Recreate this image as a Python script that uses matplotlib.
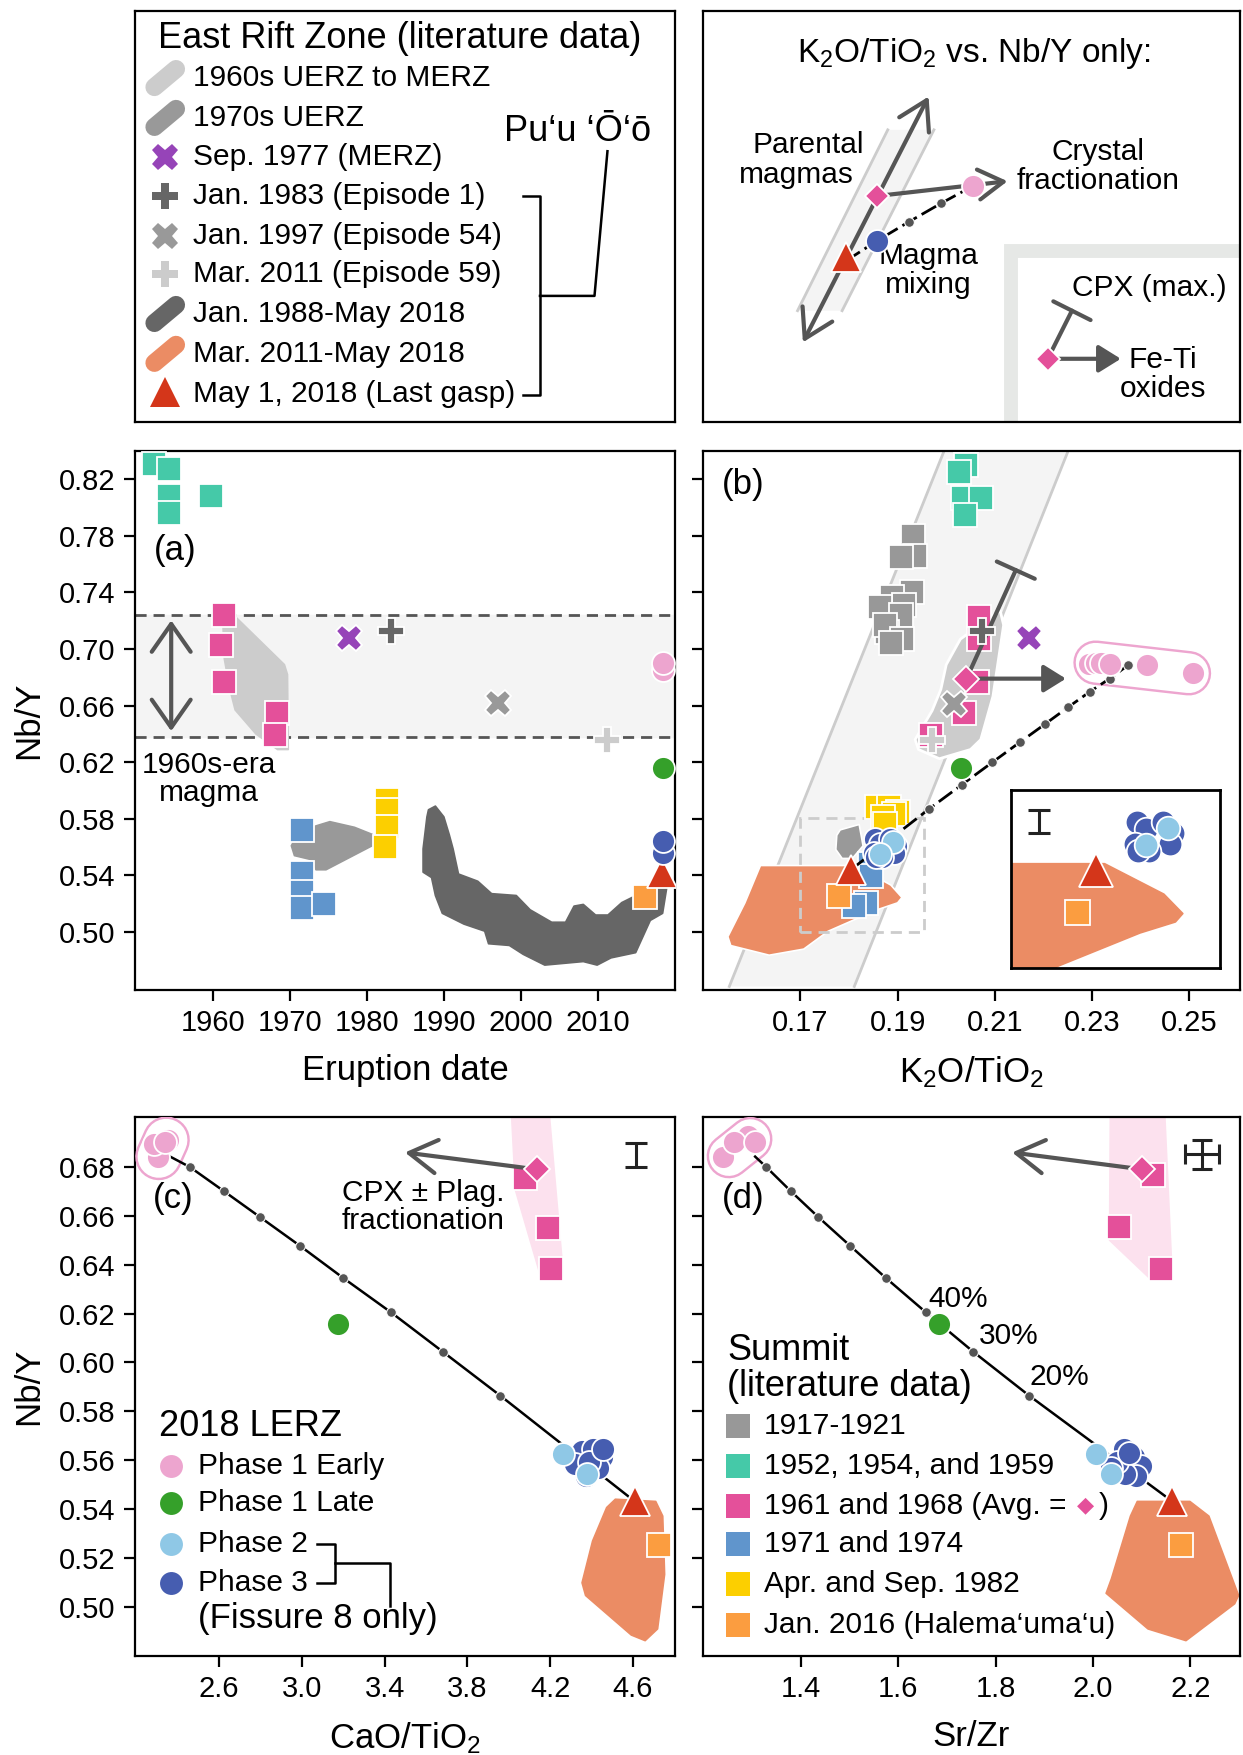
import numpy as np
import matplotlib.pyplot as plt
from matplotlib.patches import Polygon
from matplotlib.ticker import FormatStrFormatter

plt.rcParams['font.family'] = ['Liberation Sans', 'DejaVu Sans']
plt.rcParams['mathtext.default'] = 'regular'
plt.rcParams['axes.linewidth'] = 1.6

# ------------------------------------------------------------------
# colours
C_TEAL = '#45c9a8'
C_GRAYSQ = '#989898'
C_PINKSQ = '#e4509a'
C_BLUESQ = '#6095cc'
C_YELLOW = '#fccf00'
C_ORANGE = '#fb9d40'
C_EARLY = '#eda5cf'
C_LATE = '#35a02a'
C_PH2 = '#8fc8e6'
C_PH3 = '#465db0'
C_GASP = '#d4361a'
C_ORPOLY = '#eb8c64'
C_DARK = '#666666'
C_MID = '#999999'
C_LIGHT = '#cccccc'
C_PURPLE = '#9644b8'
C_BAND = '#f4f4f4'
C_ARROW = '#555555'

# ------------------------------------------------------------------
# ticks
a_xticks = [1960, 1970, 1980, 1990, 2000, 2010]
ab_yticks = [0.50, 0.54, 0.58, 0.62, 0.66, 0.70, 0.74, 0.78, 0.82]
b_xticks = [0.17, 0.19, 0.21, 0.23, 0.25]
c_xticks = [2.6, 3.0, 3.4, 3.8, 4.2, 4.6]
d_xticks = [1.4, 1.6, 1.8, 2.0, 2.2]
cd_yticks = [0.50, 0.52, 0.54, 0.56, 0.58, 0.60, 0.62, 0.64, 0.66, 0.68]

# ------------------------------------------------------------------
# panel (a): Nb/Y vs eruption date
teal_a_x = [1952.4, 1954.3, 1954.3, 1954.3, 1959.8]
teal_a_y = [0.831, 0.827, 0.808, 0.796, 0.808]
pink_a_x = [1961.4, 1961.1, 1961.4, 1968.4, 1968.1]
pink_a_y = [0.724, 0.703, 0.677, 0.655, 0.639]
bluesq_a_x = [1971.6, 1971.6, 1971.6, 1971.6, 1974.5]
bluesq_a_y = [0.572, 0.542, 0.528, 0.517, 0.520]
yellow_a_x = [1982.6, 1982.6, 1982.6, 1982.3]
yellow_a_y = [0.593, 0.586, 0.574, 0.560]
sep77_a = (1977.7, 0.708)
ep1_a = (1983.1, 0.713)
ep54_a = (1997.0, 0.662)
ep59_a = (2011.2, 0.636)
early_a_x = [2018.45, 2018.45]
early_a_y = [0.685, 0.690]
late_a = (2018.45, 0.616)
ph3_a_x = [2018.5, 2018.5]
ph3_a_y = [0.556, 0.564]
gasp_a = (2018.35, 0.542)
halema_a = (2016.1, 0.525)
era1960_lo, era1960_hi = 0.638, 0.724

poly_1960s_a = [(1961.3, 0.720), (1963.1, 0.722), (1969.3, 0.689), (1969.7, 0.682),
                (1969.8, 0.629), (1968.4, 0.629), (1965.6, 0.640), (1962.9, 0.657),
                (1962.2, 0.672), (1961.5, 0.693)]
poly_1970s_a = [(1973.4, 0.575), (1975.2, 0.578), (1978.4, 0.574), (1980.7, 0.569),
                (1980.7, 0.561), (1974.7, 0.544), (1973.4, 0.544), (1972.9, 0.551),
                (1970.6, 0.554), (1970.2, 0.561), (1971.0, 0.569)]
poly_pood_a = [(1988.0, 0.5864), (1988.9, 0.5890), (1990.0, 0.5814), (1990.7, 0.5688),
               (1991.2, 0.5587), (1991.9, 0.5410), (1994.4, 0.5359), (1996.2, 0.5271),
               (1999.4, 0.5258), (2001.2, 0.5157), (2004.0, 0.5069), (2005.8, 0.5069),
               (2006.9, 0.5183), (2008.1, 0.5195), (2009.7, 0.5120), (2011.3, 0.5120),
               (2013.1, 0.5208), (2014.5, 0.5246), (2016.3, 0.5284), (2018.1, 0.5385),
               (2019.0, 0.5334), (2018.4, 0.5132), (2016.8, 0.5082), (2014.9, 0.4854),
               (2011.7, 0.4817), (2009.9, 0.4766), (2008.1, 0.4791), (2003.1, 0.4766),
               (2000.3, 0.4842), (1998.5, 0.4905), (1995.8, 0.4917), (1995.3, 0.5006),
               (1992.6, 0.5056), (1989.8, 0.5132), (1988.9, 0.5258), (1988.4, 0.5385),
               (1987.3, 0.5423), (1987.3, 0.5587), (1987.8, 0.5814)]

# ------------------------------------------------------------------
# panel (b): Nb/Y vs K2O/TiO2
band_b = [(0.1554, 0.4615), (0.1994, 0.8387), (0.2249, 0.8387), (0.1811, 0.4615)]
teal_b_x = [0.2040, 0.2026, 0.2034, 0.2071, 0.2039]
teal_b_y = [0.830, 0.8255, 0.807, 0.807, 0.795]
gray_b_x = [0.1932, 0.1935, 0.1907, 0.1930, 0.1889, 0.1914, 0.1864, 0.1908,
            0.1879, 0.1875, 0.1909, 0.1886]
gray_b_y = [0.780, 0.766, 0.765, 0.740, 0.737, 0.731, 0.730, 0.724,
            0.712, 0.717, 0.707, 0.704]
pink_b_x = [0.2068, 0.2068, 0.2064, 0.2036, 0.1968]
pink_b_y = [0.723, 0.707, 0.677, 0.655, 0.639]
sep77_b = (0.2171, 0.7075)
ep1_b = (0.2073, 0.7126)
ep54_b = (0.2016, 0.6615)
ep59_b = (0.1971, 0.6356)
avg_b = (0.2041, 0.6786)
cpx_b = (0.2143, 0.7558)
feti_b = (0.2246, 0.6791)
early_b_x = [0.2293, 0.2307, 0.2318, 0.2337, 0.2412, 0.2507]
early_b_y = [0.6897, 0.6904, 0.6904, 0.6892, 0.6887, 0.6829]
late_b = (0.2030, 0.6157)
mixdots_b_x = [0.1964, 0.2032, 0.2095, 0.2152, 0.2204, 0.2251, 0.2295, 0.2336, 0.2374]
mixdots_b_y = [0.5868, 0.6041, 0.6200, 0.6343, 0.6472, 0.6590, 0.6698, 0.6791, 0.6887]
yellow_b_x = [0.1857, 0.1882, 0.1900, 0.1893, 0.1871, 0.1875]
yellow_b_y = [0.5885, 0.5885, 0.5848, 0.5835, 0.5810, 0.5760]
bluesq_b_x = [0.1843, 0.1846, 0.1836, 0.1811]
bluesq_b_y = [0.5483, 0.5395, 0.5206, 0.5181]
ph3_b_x = [0.1853, 0.1864, 0.1851, 0.1885, 0.1897, 0.1893, 0.1868, 0.1855]
ph3_b_y = [0.5657, 0.5625, 0.5561, 0.5657, 0.5609, 0.5561, 0.5529, 0.5529]
ph2_b_x = [0.1891, 0.1864]
ph2_b_y = [0.5633, 0.5553]
gasp_b = (0.1804, 0.5440)
halema_b = (0.1780, 0.5252)
poly_1960s_b = [(0.2111, 0.727), (0.2118, 0.717), (0.2096, 0.6665), (0.2071, 0.636),
                (0.2050, 0.629), (0.1986, 0.6225), (0.1943, 0.629), (0.1936, 0.636),
                (0.1971, 0.6565), (0.1989, 0.6716), (0.2000, 0.689), (0.2029, 0.707),
                (0.2057, 0.714), (0.2086, 0.722)]
poly_1970s_b = [(0.1782, 0.5722), (0.1821, 0.5760), (0.1829, 0.5609), (0.1807, 0.5520),
                (0.1786, 0.5520), (0.1773, 0.5583), (0.1775, 0.5684)]
poly_pood_b = [(0.1618, 0.5470), (0.1814, 0.5470), (0.1886, 0.5332), (0.1909, 0.5244),
               (0.1900, 0.5206), (0.1857, 0.5156), (0.1757, 0.5005), (0.1707, 0.4879),
               (0.1636, 0.4836), (0.1557, 0.4904), (0.1551, 0.4967), (0.1586, 0.5206)]
inset_x = (0.1700, 0.1954)
inset_y = (0.4999, 0.5805)
inset_err = (0.1734, 0.5661, 0.0052)

# ------------------------------------------------------------------
# panel (c): Nb/Y vs CaO/TiO2
early_c_x = [2.303, 2.286, 2.354, 2.337]
early_c_y = [0.6843, 0.6894, 0.6911, 0.6903]
mixdots_c_x = [2.459, 2.622, 2.798, 2.990, 3.198, 3.431, 3.681, 3.959]
mixdots_c_y = [0.6800, 0.6702, 0.6595, 0.6478, 0.6347, 0.6205, 0.6044, 0.5864]
mixstart_c = (2.363, 0.6843)
late_c = (3.176, 0.6158)
pink_c_x = [4.078, 4.188, 4.202]
pink_c_y = [0.6757, 0.6552, 0.6381]
avg_c = (4.134, 0.6791)
cpx_c = (3.498, 0.6860)
ph3_c_x = [4.354, 4.405, 4.448, 4.431, 4.372, 4.320, 4.388, 4.456]
ph3_c_y = [0.5637, 0.5645, 0.5611, 0.5568, 0.5534, 0.5585, 0.5594, 0.5645]
ph2_c_x = [4.264, 4.380]
ph2_c_y = [0.5625, 0.5542]
gasp_c = (4.609, 0.5431)
halema_c = (4.727, 0.5251)
err_c = (4.617, 0.685, 0.005)
poly_pinkshade_c = [(4.007, 0.712), (4.185, 0.712), (4.261, 0.6381), (4.256, 0.6338),
                    (4.159, 0.6338), (4.032, 0.6706)]
poly_pood_c = [(4.473, 0.5406), (4.515, 0.5440), (4.710, 0.5431), (4.744, 0.5371),
               (4.753, 0.5132), (4.719, 0.4909), (4.659, 0.4861), (4.592, 0.4884),
               (4.371, 0.5046), (4.354, 0.5098), (4.405, 0.5269)]

# ------------------------------------------------------------------
# panel (d): Nb/Y vs Sr/Zr
early_d_x = [1.291, 1.241, 1.263, 1.306]
early_d_y = [0.6928, 0.6843, 0.6903, 0.6903]
mixdots_d_x = [1.329, 1.379, 1.436, 1.501, 1.574, 1.657, 1.754, 1.869]
mixdots_d_y = [0.6800, 0.6702, 0.6595, 0.6478, 0.6347, 0.6205, 0.6044, 0.5864]
mixstart_d = (1.306, 0.6843)
mix_labels = ['40%', '30%', '20%']
mix_label_x = [1.661, 1.766, 1.869]
mix_label_y = [0.6261, 0.6107, 0.5940]
late_d = (1.683, 0.6158)
pink_d_x = [2.124, 2.054, 2.140]
pink_d_y = [0.6766, 0.6555, 0.6381]
avg_d = (2.100, 0.6791)
cpx_d = (1.834, 0.6860)
ph3_d_x = [2.063, 2.084, 2.099, 2.088, 2.066, 2.049, 2.074, 2.038]
ph3_d_y = [0.5645, 0.5611, 0.5577, 0.5534, 0.5542, 0.5594, 0.5628, 0.5568]
ph2_d_x = [2.006, 2.038]
ph2_d_y = [0.5625, 0.5542]
gasp_d = (2.163, 0.5431)
halema_d = (2.181, 0.5251)
err_d = (2.224, 0.6853, 0.035, 0.006)
poly_pinkshade_d = [(2.036, 0.712), (2.145, 0.712), (2.163, 0.6338), (2.120, 0.6338),
                    (2.034, 0.6501)]
poly_pood_d = [(2.091, 0.5431), (2.199, 0.5431), (2.238, 0.5371), (2.299, 0.5046),
               (2.291, 0.5012), (2.191, 0.4861), (2.113, 0.4909), (2.027, 0.5055),
               (2.038, 0.5115), (2.077, 0.5371)]

# legend texts
erz_labels = ['1960s UERZ to MERZ', '1970s UERZ', 'Sep. 1977 (MERZ)',
              'Jan. 1983 (Episode 1)', 'Jan. 1997 (Episode 54)', 'Mar. 2011 (Episode 59)',
              'Jan. 1988-May 2018', 'Mar. 2011-May 2018', 'May 1, 2018 (Last gasp)']
lerz_labels = ['Phase 1 Early', 'Phase 1 Late', 'Phase 2', 'Phase 3']
summit_labels = ['1917-1921', '1952, 1954, and 1959', '1961 and 1968 (Avg. = ',
                 '1971 and 1974', 'Apr. and Sep. 1982', 'Jan. 2016 (Halema\u2018uma\u2018u)']

# ------------------------------------------------------------------
fig = plt.figure(figsize=(12.43, 17.55), dpi=100)
L1, W1 = 0.1086, 0.4344
L2, W2 = 0.5656, 0.4320
ax_leg = fig.add_axes([L1, 0.7595, W1, 0.2342])
ax_key = fig.add_axes([L2, 0.7595, W2, 0.2342])
ax_a = fig.add_axes([L1, 0.4359, W1, 0.3071])
ax_b = fig.add_axes([L2, 0.4359, W2, 0.3071])
ax_c = fig.add_axes([L1, 0.0564, W1, 0.3071])
ax_d = fig.add_axes([L2, 0.0564, W2, 0.3071])

FS_TICK = 21
FS_LAB = 25
FS_TXT = 21.5


def pts(ax, x, y, marker, color, ms, z=5, mew=1.3, ec='white', **kw):
    ax.plot(x, y, ls='none', marker=marker, ms=ms, mfc=color, mec=ec, mew=mew,
            zorder=z, **kw)


def blob(ax, verts, color, z=2, ec=None, lw=1.2):
    ax.add_patch(Polygon(verts, closed=True, fc=color, ec=ec if ec else color, lw=lw,
                         joinstyle='round', zorder=z))


def style(ax, xt, yt, xl, yl, xfmt, ylabels=True):
    ax.set_xlim(xl)
    ax.set_ylim(yl)
    ax.set_xticks(xt)
    ax.set_yticks(yt)
    ax.xaxis.set_major_formatter(FormatStrFormatter(xfmt))
    ax.yaxis.set_major_formatter(FormatStrFormatter('%.2f'))
    ax.tick_params(direction='out', length=8, width=1.6, labelsize=FS_TICK, pad=6)
    if not ylabels:
        ax.set_yticklabels([])


def arrow(ax, start, end, style='->', lw=3, ms=28, color=C_ARROW, z=6, **kw):
    ax.annotate('', xy=end, xytext=start,
                arrowprops=dict(arrowstyle=style, lw=lw, color=color, mutation_scale=ms,
                                shrinkA=0, shrinkB=0, **kw), zorder=z)


def pill(ax, x, y, color, dx=0.02, dy=0.022, lw=13):
    ax.plot([x - dx, x + dx], [y - dy, y + dy], color=color, lw=lw,
            solid_capstyle='round', transform=ax.transAxes, zorder=3)


def outline(ax, p0, p1, lw=32):
    ax.plot([p0[0], p1[0]], [p0[1], p1[1]], color=C_EARLY, lw=lw,
            solid_capstyle='round', zorder=4)
    ax.plot([p0[0], p1[0]], [p0[1], p1[1]], color='white', lw=lw - 3.5,
            solid_capstyle='round', zorder=4)


SQ = 17
CI = 16.5
TRI = 22
XM = 19
FETI = '-|>,head_length=0.45,head_width=0.28'

# ======================= legend box (top left) =======================
for ax in (ax_leg, ax_key):
    ax.set_xlim(0, 1)
    ax.set_ylim(0, 1)
    ax.set_xticks([])
    ax.set_yticks([])

ax_leg.text(0.043, 0.934, 'East Rift Zone (literature data)', fontsize=26,
            va='center', ha='left', transform=ax_leg.transAxes)
row_y = [0.837, 0.740, 0.645, 0.550, 0.453, 0.360, 0.263, 0.166, 0.069]
sx = 0.056
pill(ax_leg, sx, row_y[0], C_LIGHT)
pill(ax_leg, sx, row_y[1], C_MID)
pts(ax_leg, [sx], [row_y[2]], 'X', C_PURPLE, XM, mew=0, transform=ax_leg.transAxes)
pts(ax_leg, [sx], [row_y[3]], 'P', C_DARK, XM, mew=0, transform=ax_leg.transAxes)
pts(ax_leg, [sx], [row_y[4]], 'X', C_MID, XM, mew=0, transform=ax_leg.transAxes)
pts(ax_leg, [sx], [row_y[5]], 'P', C_LIGHT, XM, mew=0, transform=ax_leg.transAxes)
pill(ax_leg, sx, row_y[6], C_DARK)
pill(ax_leg, sx, row_y[7], C_ORPOLY)
pts(ax_leg, [sx], [row_y[8] + 0.005], '^', C_GASP, TRI, mew=0, transform=ax_leg.transAxes)
for lab, yy in zip(erz_labels, row_y):
    ax_leg.text(0.108, yy, lab, fontsize=FS_TXT, va='center', ha='left',
                transform=ax_leg.transAxes)
ax_leg.text(0.82, 0.707, 'Pu\u2018u \u2018\u014c\u2018\u014d', fontsize=26, ha='center',
            va='center', transform=ax_leg.transAxes)
ax_leg.plot([0.718, 0.750, 0.750, 0.718], [0.550, 0.550, 0.065, 0.065], color='black',
            lw=1.8, transform=ax_leg.transAxes)
ax_leg.plot([0.750, 0.851, 0.875], [0.307, 0.307, 0.659], color='black', lw=1.8,
            transform=ax_leg.transAxes)

# ======================= key box (top right) =======================
T = ax_key.transAxes
ax_key.plot([0.573, 0.573, 1.05], [-0.05, 0.416, 0.416], color='#e6e8e6', lw=10,
            solid_joinstyle='miter', transform=T, zorder=1)
ax_key.text(0.505, 0.897, 'K$_2$O/TiO$_2$ vs. Nb/Y only:', fontsize=24, ha='center',
            va='center', transform=T)
ax_key.add_patch(Polygon([(0.176, 0.271), (0.344, 0.711), (0.430, 0.711), (0.259, 0.271)],
                         closed=True, fc=C_BAND, ec='none', transform=T, zorder=1))
ax_key.plot([0.176, 0.344], [0.271, 0.711], color=C_LIGHT, lw=2, transform=T, zorder=1)
ax_key.plot([0.259, 0.430], [0.271, 0.711], color=C_LIGHT, lw=2, transform=T, zorder=1)
ax_key.annotate('', xy=(0.420, 0.792), xytext=(0.186, 0.194), xycoords=T,
                arrowprops=dict(arrowstyle='<->,head_length=0.5,head_width=0.3', lw=3,
                                color=C_ARROW, mutation_scale=40,
                                shrinkA=0, shrinkB=0), zorder=3)
ax_key.annotate('', xy=(0.567, 0.586), xytext=(0.324, 0.550), xycoords=T,
                arrowprops=dict(arrowstyle='->,head_length=0.5,head_width=0.3', lw=3,
                                color=C_ARROW, mutation_scale=36,
                                shrinkA=0, shrinkB=0), zorder=3)
ax_key.plot([0.266, 0.324, 0.383, 0.443, 0.502], [0.392, 0.441, 0.487, 0.532, 0.574],
            color='black', lw=2, ls=(0, (6, 2)), transform=T, zorder=3)
pts(ax_key, [0.383, 0.443], [0.487, 0.532], 'o', C_ARROW, 7, mew=0.8, transform=T)
pts(ax_key, [0.266], [0.392 + 0.01], '^', C_GASP, TRI, transform=T, z=6)
pts(ax_key, [0.324], [0.441], 'o', C_PH3, CI, transform=T, z=6)
pts(ax_key, [0.502], [0.574], 'o', C_EARLY, CI, transform=T, z=6)
pts(ax_key, [0.324], [0.550], 'D', C_PINKSQ, 12, transform=T, z=6)
ax_key.text(0.30, 0.675, 'Parental', fontsize=FS_TXT, ha='right', va='center', transform=T)
ax_key.text(0.28, 0.600, 'magmas', fontsize=FS_TXT, ha='right', va='center', transform=T)
ax_key.text(0.736, 0.622, 'Crystal\nfractionation', fontsize=FS_TXT, ha='center',
            va='center', linespacing=1.05, transform=T)
ax_key.text(0.42, 0.368, 'Magma\nmixing', fontsize=FS_TXT, ha='center', va='center',
            linespacing=1.05, transform=T)
ax_key.text(0.687, 0.327, 'CPX (max.)', fontsize=FS_TXT, ha='left', va='center',
            transform=T)
ax_key.annotate('', xy=(0.687, 0.271), xytext=(0.642, 0.154), xycoords=T,
                arrowprops=dict(arrowstyle='|-|,widthA=0,widthB=0.5', lw=3, color=C_ARROW,
                                mutation_scale=30, shrinkA=0, shrinkB=0), zorder=3)
ax_key.annotate('', xy=(0.778, 0.154), xytext=(0.642, 0.154), xycoords=T,
                arrowprops=dict(arrowstyle=FETI, lw=3, color=C_ARROW, fc=C_ARROW,
                                mutation_scale=30, shrinkA=0, shrinkB=0), zorder=3)
pts(ax_key, [0.642], [0.154], 'D', C_PINKSQ, 12, transform=T, z=6)
ax_key.text(0.857, 0.116, 'Fe-Ti\noxides', fontsize=FS_TXT, ha='center', va='center',
            linespacing=1.05, transform=T)

# ======================= panel (a) =======================
ax = ax_a
ax.axhspan(era1960_lo, era1960_hi, color=C_BAND, zorder=0)
for yy in (era1960_lo, era1960_hi):
    ax.axhline(yy, color=C_ARROW, lw=2, ls=(0, (4, 2.5)), zorder=1)
blob(ax, poly_1960s_a, C_LIGHT, z=2)
blob(ax, poly_1970s_a, C_MID, z=2)
blob(ax, poly_pood_a, C_DARK, z=2)
arrow(ax, (1954.6, 0.6420), (1954.6, 0.7203), style='<->,head_length=0.5,head_width=0.35',
      ms=40)
pts(ax, teal_a_x, teal_a_y, 's', C_TEAL, SQ)
pts(ax, pink_a_x, pink_a_y, 's', C_PINKSQ, SQ)
pts(ax, bluesq_a_x, bluesq_a_y, 's', C_BLUESQ, SQ)
pts(ax, yellow_a_x, yellow_a_y, 's', C_YELLOW, SQ)
pts(ax, [sep77_a[0]], [sep77_a[1]], 'X', C_PURPLE, XM)
pts(ax, [ep1_a[0]], [ep1_a[1]], 'P', C_DARK, XM)
pts(ax, [ep54_a[0]], [ep54_a[1]], 'X', C_MID, XM)
pts(ax, [ep59_a[0]], [ep59_a[1]], 'P', C_LIGHT, XM)
pts(ax, [halema_a[0]], [halema_a[1]], 's', C_ORANGE, SQ)
pts(ax, [gasp_a[0]], [gasp_a[1]], '^', C_GASP, TRI)
pts(ax, early_a_x, early_a_y, 'o', C_EARLY, CI)
pts(ax, [late_a[0]], [late_a[1]], 'o', C_LATE, CI)
pts(ax, ph3_a_x, ph3_a_y, 'o', C_PH3, CI)
ax.text(1955.1, 0.7695, '(a)', fontsize=25, ha='center', va='center')
ax.text(1959.5, 0.608, '1960s-era\nmagma', fontsize=FS_TXT, ha='center', va='center',
        linespacing=1.0)
style(ax, a_xticks, ab_yticks, (1949.9, 2020.0), (0.459, 0.840), '%d')
ax.set_xlabel('Eruption date', fontsize=FS_LAB, labelpad=12)
ax.set_ylabel('Nb/Y', fontsize=FS_LAB, labelpad=10)

# ======================= panel (b) =======================
ax = ax_b
ax.add_patch(Polygon(band_b, closed=True, fc=C_BAND, ec='none', zorder=0))
ax.plot([band_b[0][0], band_b[1][0]], [band_b[0][1], band_b[1][1]], color=C_LIGHT, lw=2,
        zorder=0.5)
ax.plot([band_b[3][0], band_b[2][0]], [band_b[3][1], band_b[2][1]], color=C_LIGHT, lw=2,
        zorder=0.5)
blob(ax, poly_pood_b, C_ORPOLY, z=1, ec='white')
blob(ax, poly_1970s_b, C_MID, z=1, ec='white')
blob(ax, poly_1960s_b, C_LIGHT, z=1, ec='white', lw=2)
ax.add_patch(plt.Rectangle((inset_x[0], inset_y[0]), inset_x[1] - inset_x[0],
                           inset_y[1] - inset_y[0], fill=False, ec=C_LIGHT, lw=2,
                           ls=(0, (4, 2.5)), zorder=1.5))
pts(ax, teal_b_x, teal_b_y, 's', C_TEAL, SQ)
pts(ax, gray_b_x, gray_b_y, 's', C_GRAYSQ, SQ)
pts(ax, pink_b_x, pink_b_y, 's', C_PINKSQ, SQ)
pts(ax, yellow_b_x, yellow_b_y, 's', C_YELLOW, SQ)
pts(ax, bluesq_b_x, bluesq_b_y, 's', C_BLUESQ, SQ)
arrow(ax, avg_b, cpx_b, style='|-|,widthA=0,widthB=0.5', ms=30, z=6)
arrow(ax, (0.2052, avg_b[1] + 0.0005), feti_b, style=FETI, ms=30, z=6, fc=C_ARROW)
pts(ax, [ep1_b[0]], [ep1_b[1]], 'P', C_DARK, XM, z=7)
pts(ax, [ep54_b[0]], [ep54_b[1]], 'X', C_MID, XM, z=7)
pts(ax, [ep59_b[0]], [ep59_b[1]], 'P', C_LIGHT, XM, z=7)
pts(ax, [sep77_b[0]], [sep77_b[1]], 'X', C_PURPLE, XM, z=7)
pts(ax, [avg_b[0]], [avg_b[1]], 'D', C_PINKSQ, 13, z=7)
outline(ax, (early_b_x[1], early_b_y[1]), (early_b_x[-1] - 0.0008, early_b_y[-1]))
ax.plot([gasp_b[0]] + mixdots_b_x, [gasp_b[1]] + mixdots_b_y, color='black', lw=2,
        ls=(0, (6, 2)), zorder=5)
pts(ax, mixdots_b_x, mixdots_b_y, 'o', C_ARROW, 7, mew=0.8, z=5.5)
pts(ax, early_b_x, early_b_y, 'o', C_EARLY, CI, z=6)
pts(ax, [late_b[0]], [late_b[1]], 'o', C_LATE, CI, z=6)
pts(ax, [halema_b[0]], [halema_b[1]], 's', C_ORANGE, SQ, z=7)
pts(ax, [gasp_b[0]], [gasp_b[1]], '^', C_GASP, TRI, z=7)
pts(ax, ph3_b_x, ph3_b_y, 'o', C_PH3, CI, z=7)
pts(ax, ph2_b_x, ph2_b_y, 'o', C_PH2, CI, z=7)
ax.text(0.074, 0.937, '(b)', fontsize=25, ha='center', va='center', transform=ax.transAxes)
style(ax, b_xticks, ab_yticks, (0.150, 0.2604), (0.459, 0.840), '%.2f', ylabels=False)
ax.set_xlabel('K$_2$O/TiO$_2$', fontsize=FS_LAB, labelpad=12)

# inset
axi = ax.inset_axes([0.573, 0.0415, 0.3895, 0.330])
axi.set_xlim(inset_x)
axi.set_ylim(inset_y)
axi.set_xticks([])
axi.set_yticks([])
for s in axi.spines.values():
    s.set_linewidth(2)
blob(axi, poly_pood_b, C_ORPOLY, z=1)
axi.errorbar([inset_err[0]], [inset_err[1]], yerr=[inset_err[2]], color='#222222',
             lw=2.2, capsize=8, capthick=2.2)
pts(axi, [halema_b[0]], [halema_b[1]], 's', C_ORANGE, 18)
pts(axi, [gasp_b[0]], [gasp_b[1]], '^', C_GASP, 24)
pts(axi, ph3_b_x, ph3_b_y, 'o', C_PH3, 17)
pts(axi, ph2_b_x, ph2_b_y, 'o', C_PH2, 17)

# ======================= panel (c) =======================
ax = ax_c
blob(ax, poly_pinkshade_c, '#fce1ee', z=0.5)
blob(ax, poly_pood_c, C_ORPOLY, z=1)
outline(ax, (early_c_x[0] + 0.005, early_c_y[0]), (early_c_x[2] - 0.01, early_c_y[2]),
        lw=34)
ax.plot([mixstart_c[0]] + mixdots_c_x + [gasp_c[0]],
        [mixstart_c[1]] + mixdots_c_y + [gasp_c[1]], color='black', lw=1.8, zorder=4.5)
pts(ax, mixdots_c_x, mixdots_c_y, 'o', C_ARROW, 7, mew=0.8, z=5)
pts(ax, pink_c_x, pink_c_y, 's', C_PINKSQ, SQ)
arrow(ax, avg_c, cpx_c, style='->,head_length=0.5,head_width=0.3', ms=40)
pts(ax, [avg_c[0]], [avg_c[1]], 'D', C_PINKSQ, 13, z=7)
pts(ax, early_c_x, early_c_y, 'o', C_EARLY, CI, z=6)
pts(ax, [late_c[0]], [late_c[1]], 'o', C_LATE, CI, z=6)
pts(ax, [halema_c[0]], [halema_c[1]], 's', C_ORANGE, SQ, z=7)
pts(ax, [gasp_c[0]], [gasp_c[1]], '^', C_GASP, TRI, z=7)
pts(ax, ph3_c_x, ph3_c_y, 'o', C_PH3, CI, z=7)
pts(ax, ph2_c_x, ph2_c_y, 'o', C_PH2, CI, z=7)
ax.errorbar([err_c[0]], [err_c[1]], yerr=[err_c[2]], color='#222222', lw=2.2, capsize=8,
            capthick=2.2)
ax.text(0.071, 0.849, '(c)', fontsize=25, ha='center', va='center', transform=ax.transAxes)
ax.text(0.383, 0.833, 'CPX \u00b1 Plag.\nfractionation', fontsize=FS_TXT, ha='left',
        va='center', linespacing=1.0, transform=ax.transAxes)
ax.text(0.045, 0.426, '2018 LERZ', fontsize=26, ha='left', va='center',
        transform=ax.transAxes)
lerz_y = [0.353, 0.283, 0.207, 0.136]
lerz_c = [C_EARLY, C_LATE, C_PH2, C_PH3]
for lab, yy, cc in zip(lerz_labels, lerz_y, lerz_c):
    pts(ax, [0.067], [yy], 'o', cc, CI, mew=0, transform=ax.transAxes)
    ax.text(0.117, yy, lab, fontsize=FS_TXT, ha='left', va='center', transform=ax.transAxes)
ax.text(0.117, 0.070, '(Fissure 8 only)', fontsize=FS_LAB, ha='left', va='center',
        transform=ax.transAxes)
ax.plot([0.338, 0.370, 0.370, 0.338], [0.207, 0.207, 0.136, 0.136], color='black', lw=1.8,
        transform=ax.transAxes)
ax.plot([0.370, 0.472, 0.472], [0.172, 0.172, 0.093], color='black', lw=1.8,
        transform=ax.transAxes)
style(ax, c_xticks, cd_yticks, (2.193, 4.803), (0.4798, 0.7005), '%.1f')
ax.set_xlabel('CaO/TiO$_2$', fontsize=FS_LAB, labelpad=12)
ax.set_ylabel('Nb/Y', fontsize=FS_LAB, labelpad=10)

# ======================= panel (d) =======================
ax = ax_d
blob(ax, poly_pinkshade_d, '#fce1ee', z=0.5)
blob(ax, poly_pood_d, C_ORPOLY, z=1)
outline(ax, (1.252, 0.6845), (1.296, 0.6915), lw=32)
ax.plot([mixstart_d[0]] + mixdots_d_x + [gasp_d[0]],
        [mixstart_d[1]] + mixdots_d_y + [gasp_d[1]], color='black', lw=1.8, zorder=4.5)
pts(ax, mixdots_d_x, mixdots_d_y, 'o', C_ARROW, 7, mew=0.8, z=5)
for lab, xx, yy in zip(mix_labels, mix_label_x, mix_label_y):
    ax.text(xx, yy, lab, fontsize=FS_TXT, ha='left', va='center', zorder=6)
pts(ax, pink_d_x, pink_d_y, 's', C_PINKSQ, SQ)
arrow(ax, avg_d, cpx_d, style='->,head_length=0.5,head_width=0.3', ms=40)
pts(ax, [avg_d[0]], [avg_d[1]], 'D', C_PINKSQ, 13, z=7)
pts(ax, early_d_x, early_d_y, 'o', C_EARLY, CI, z=6)
pts(ax, [late_d[0]], [late_d[1]], 'o', C_LATE, CI, z=6)
pts(ax, [halema_d[0]], [halema_d[1]], 's', C_ORANGE, SQ, z=7)
pts(ax, [gasp_d[0]], [gasp_d[1]], '^', C_GASP, TRI, z=7)
pts(ax, ph3_d_x, ph3_d_y, 'o', C_PH3, CI, z=7)
pts(ax, ph2_d_x, ph2_d_y, 'o', C_PH2, CI, z=7)
ax.errorbar([err_d[0]], [err_d[1]], xerr=[err_d[2]], yerr=[err_d[3]], color='#222222',
            lw=2.2, capsize=7, capthick=2.2)
ax.text(0.074, 0.849, '(d)', fontsize=25, ha='center', va='center', transform=ax.transAxes)
ax.text(0.045, 0.566, 'Summit', fontsize=26, ha='left', va='center', transform=ax.transAxes)
ax.text(0.045, 0.500, '(literature data)', fontsize=26, ha='left', va='center',
        transform=ax.transAxes)
summit_y = [0.426, 0.353, 0.279, 0.207, 0.133, 0.058]
summit_c = [C_GRAYSQ, C_TEAL, C_PINKSQ, C_BLUESQ, C_YELLOW, C_ORANGE]
for i, (lab, yy, cc) in enumerate(zip(summit_labels, summit_y, summit_c)):
    pts(ax, [0.066], [yy], 's', cc, SQ, mew=0, transform=ax.transAxes)
    t = ax.text(0.113, yy, lab, fontsize=FS_TXT, ha='left', va='center',
                transform=ax.transAxes)
    if i == 2:
        t2 = ax.annotate('\u25c6', xy=(1, 0.5), xycoords=t, xytext=(2, 0),
                         textcoords='offset points', ha='left', va='center',
                         fontsize=16, color=C_PINKSQ, family='DejaVu Sans')
        ax.annotate(')', xy=(1, 0.5), xycoords=t2, xytext=(3, 0),
                    textcoords='offset points', ha='left', va='center', fontsize=FS_TXT)
style(ax, d_xticks, cd_yticks, (1.199, 2.302), (0.4798, 0.7005), '%.1f', ylabels=False)
ax.set_xlabel('Sr/Zr', fontsize=FS_LAB, labelpad=12)

fig.savefig('out.png', dpi=100)
